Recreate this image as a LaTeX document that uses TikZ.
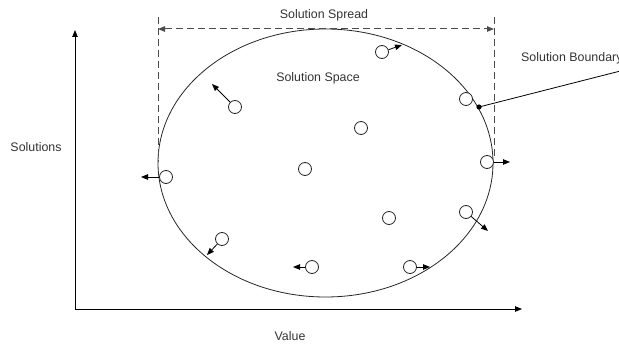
\documentclass[tikz,border=0pt]{standalone}
\usepackage{fontspec}
\setmainfont{Liberation Sans}
\usetikzlibrary{arrows.meta,shapes.geometric}
\begin{document}
\begin{tikzpicture}[x=1pt,y=-1pt,
  lbl/.style={font=\fontsize{12.4}{14}\selectfont,text=black!80,inner sep=0pt},
  sol/.style={circle,draw=black!85,line width=0.8pt,minimum size=13pt,inner sep=0pt,fill=white},
  tip/.style={-{Triangle[length=7pt,width=5.5pt]},line width=0.8pt},
  dsh/.style={draw=black!70,line width=1pt,dash pattern=on 7pt off 4pt}]
\useasboundingbox (0,0) rectangle (619,345);
% axes
\coordinate (o) at (75,309);
\coordinate (ytop) at (75,30);
\coordinate (xend) at (522,309);
\draw[tip] (o) -- (ytop);
\draw[tip] (o) -- (xend);
% solution space
\node[ellipse,draw=black!85,line width=0.8pt,minimum width=335pt,minimum height=268pt,inner sep=0pt] (space) at (325.5,163) {};
% spread
\coordinate (l1) at (158,17);
\coordinate (l2) at (158,162);
\coordinate (r1) at (494,17);
\coordinate (r2) at (494,156);
\coordinate (sa) at (158,29);
\coordinate (sb) at (494,29);
\draw[dsh] (l1) -- (l2);
\draw[dsh] (r1) -- (r2);
\draw[dsh,{Triangle[length=7pt,width=5.5pt]}-{Triangle[length=7pt,width=5.5pt]}] (sa) -- (sb);
\node[lbl] (spread) at (324,15) {Solution Spread};
\node[lbl] (spacelbl) at (318,78) {Solution Space};
\node[lbl] (ylbl) at (36,147) {Solutions};
\node[lbl] (xlbl) at (290,336) {Value};
\node[lbl,anchor=west] (blbl) at (521,58) {Solution Boundary};
% boundary pointer
\coordinate (bdot) at (479,107);
\coordinate (bend) at (640,66);
\draw[line width=0.8pt] (bdot) -- (bend);
\fill (bdot) circle (2.6pt);
% solutions
\node[sol] (c1) at (382,52) {};
\node[sol] (c2) at (466,99) {};
\node[sol] (c3) at (235,107) {};
\node[sol] (c4) at (361,128) {};
\node[sol] (c5) at (305,169) {};
\node[sol] (c6) at (166,177) {};
\node[sol] (c7) at (487,162) {};
\node[sol] (c8) at (389,218) {};
\node[sol] (c9) at (466,212) {};
\node[sol] (c10) at (222,239) {};
\node[sol] (c11) at (312,267) {};
\node[sol] (c12) at (410,267) {};
\coordinate (t1) at (402,45);
\coordinate (t3) at (212,84);
\coordinate (t6) at (141,177);
\coordinate (t7) at (510,162);
\coordinate (t9) at (488,231);
\coordinate (t10) at (207,255);
\coordinate (t11) at (293,267);
\coordinate (t12) at (430,267);
\draw[tip] (c1) -- (t1);
\draw[tip] (c3) -- (t3);
\draw[tip] (c6) -- (t6);
\draw[tip] (c7) -- (t7);
\draw[tip] (c9) -- (t9);
\draw[tip] (c10) -- (t10);
\draw[tip] (c11) -- (t11);
\draw[tip] (c12) -- (t12);
\end{tikzpicture}
\end{document}
